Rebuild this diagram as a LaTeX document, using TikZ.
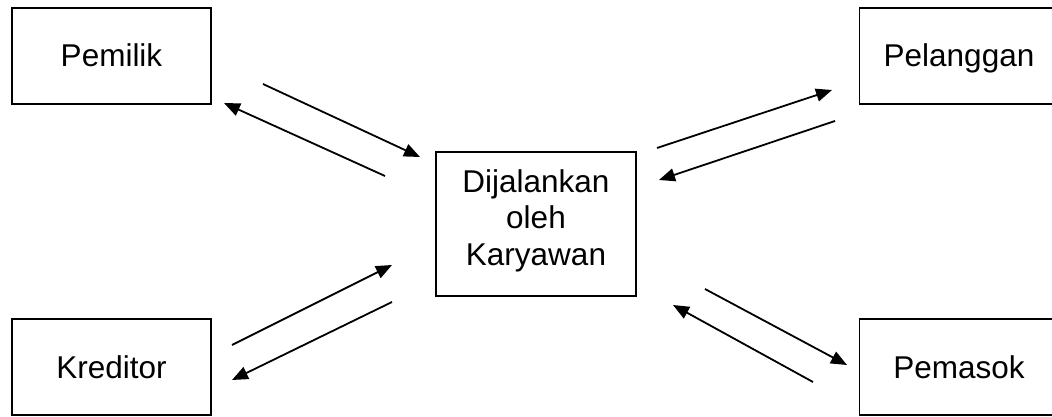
\documentclass[tikz,border=0pt]{standalone}
\usepackage{fontspec}
\setmainfont{Liberation Sans}
\usetikzlibrary{arrows.meta}
\begin{document}
\begin{tikzpicture}[x=1pt,y=1pt,
  party/.style={draw, line width=1.8pt, minimum width=199pt, minimum height=96pt,
    inner sep=0pt, font=\fontsize{31.5}{37}\selectfont, text height=22pt, text depth=0pt},
  core/.style={draw, line width=1.8pt, minimum width=200pt, minimum height=144pt,
    inner sep=0pt, align=center, font=\fontsize{31.5}{36.7}\selectfont, text depth=13pt},
  flow/.style={line width=1.8pt, -{Triangle[length=16pt,width=13pt]}}]
\useasboundingbox (0,0) rectangle (1052,416);

% parties around the business
\node[party] (pemilik)   at (111.5,360) {Pemilik};
\node[party] (pelanggan) at (959,360)   {Pelanggan};
\node[party] (kreditor)  at (111.5,49)  {Kreditor};
\node[party] (pemasok)   at (959,49)    {Pemasok};
\node[core]  (usaha)     at (536,192)   {Dijalankan\\oleh\\Karyawan};

% end points of the flows
\coordinate (a1s) at (263,332); \coordinate (a1e) at (420,259);
\coordinate (a2s) at (385,240); \coordinate (a2e) at (224,313);
\coordinate (b1s) at (657,268); \coordinate (b1e) at (832,326);
\coordinate (b2s) at (835,295); \coordinate (b2e) at (659,236);
\coordinate (c1s) at (232,71);  \coordinate (c1e) at (392,151);
\coordinate (c2s) at (392,114); \coordinate (c2e) at (232,36);
\coordinate (d1s) at (705,127); \coordinate (d1e) at (847,51);
\coordinate (d2s) at (813,34);  \coordinate (d2e) at (673,111);

\draw[flow] (a1s) -- (a1e);
\draw[flow] (a2s) -- (a2e);
\draw[flow] (b1s) -- (b1e);
\draw[flow] (b2s) -- (b2e);
\draw[flow] (c1s) -- (c1e);
\draw[flow] (c2s) -- (c2e);
\draw[flow] (d1s) -- (d1e);
\draw[flow] (d2s) -- (d2e);
\end{tikzpicture}
\end{document}
